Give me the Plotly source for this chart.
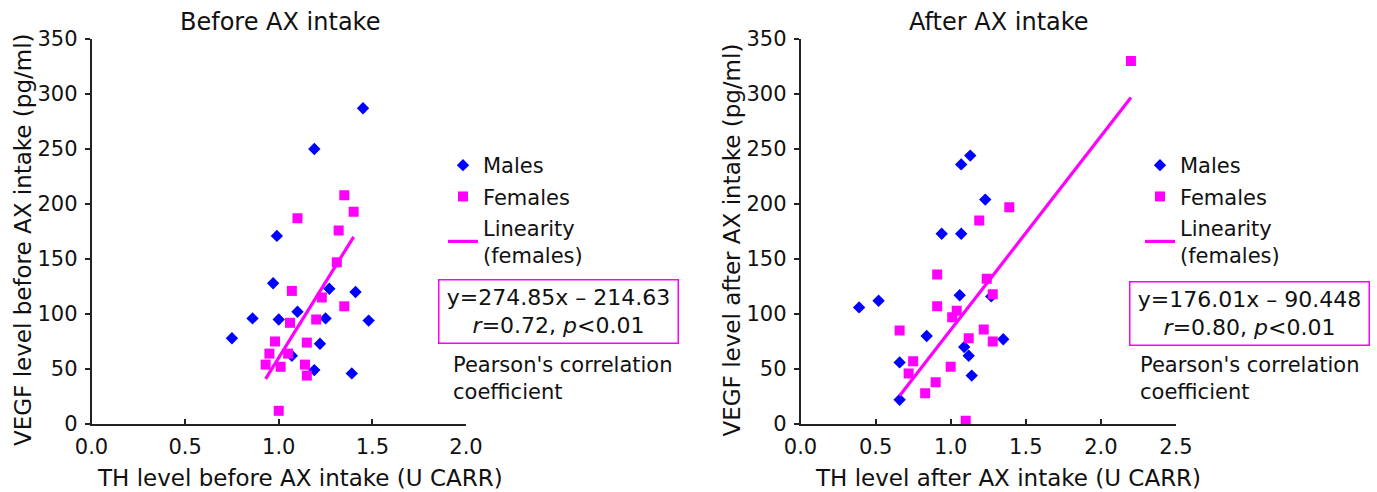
import plotly.graph_objects as go

# ---------------- data ----------------
before_male_x = [1.45, 1.19, 0.99, 0.97, 0.75, 0.86, 1.00, 1.10, 1.27, 1.41, 1.25, 1.48, 1.22, 1.07, 1.19, 1.39]
before_male_y = [287, 250, 171, 128, 78, 96, 95, 102, 123, 120, 96, 94, 73, 62, 49, 46]
before_female_x = [1.35, 1.40, 1.10, 1.32, 1.31, 1.07, 1.23, 1.35, 1.20, 1.06, 0.98, 1.15, 0.95, 1.05, 0.93, 1.01, 1.14, 1.15, 1.00]
before_female_y = [208, 193, 187, 176, 147, 121, 115, 107, 95, 92, 75, 74, 64, 64, 54, 52, 54, 44, 12]
before_fit = [274.85, -214.63]

after_male_x = [0.39, 0.52, 0.66, 0.66, 0.84, 0.94, 1.07, 1.13, 1.07, 1.23, 1.06, 1.27, 1.09, 1.12, 1.14, 1.35]
after_male_y = [106, 112, 22, 56, 80, 173, 236, 244, 173, 204, 117, 116, 70, 62, 44, 77]
after_female_x = [2.20, 1.39, 1.19, 0.91, 1.24, 1.28, 0.91, 1.04, 1.01, 0.66, 1.22, 1.12, 1.28, 0.75, 0.72, 1.00, 0.90, 0.83, 1.10]
after_female_y = [330, 197, 185, 136, 132, 118, 107, 103, 97, 85, 86, 78, 75, 57, 46, 52, 38, 28, 3]
after_fit = [176.01, -90.448]

titles = ["Before AX intake", "After AX intake"]
x_titles = ["TH level before AX intake (U CARR)", "TH level after AX intake (U CARR)"]
y_titles = ["VEGF level before AX intake (pg/ml)", "VEGF level after AX intake (pg/ml)"]
eq_texts = ["y=274.85x – 214.63<br><i>r</i>=0.72, <i>p</i><0.01",
            "y=176.01x – 90.448<br><i>r</i>=0.80, <i>p</i><0.01"]
note_text = "Pearson's correlation<br>coefficient"
x_ticks = [[0.0, 0.5, 1.0, 1.5, 2.0], [0.0, 0.5, 1.0, 1.5, 2.0, 2.5]]
y_ticks = [0, 50, 100, 150, 200, 250, 300, 350]

W, H = 1377, 492
FONT = "DejaVu Sans"
BLUE = "#0000FF"
MAG = "#FF00FF"
TXT = "#111111"

def px(x):
    return x / W

def py(y):
    return 1 - y / H

fig = go.Figure()

panels = [
    (before_male_x, before_male_y, before_female_x, before_female_y, before_fit, "x", "y", "legend"),
    (after_male_x, after_male_y, after_female_x, after_female_y, after_fit, "x2", "y2", "legend2"),
]
for k, (mx, my, fx, fy, fit, xa, ya, lg) in enumerate(panels):
    fig.add_trace(go.Scatter(x=mx, y=my, mode="markers", name="Males", xaxis=xa, yaxis=ya, legend=lg,
                             legendgroup=f"m{k}",
                             marker=dict(symbol="diamond", size=9.5, color=BLUE, line=dict(width=0))))
    fig.add_trace(go.Scatter(x=fx, y=fy, mode="markers", name="Females", xaxis=xa, yaxis=ya, legend=lg,
                             legendgroup=f"f{k}",
                             marker=dict(symbol="square", size=10, color=MAG, line=dict(width=0))))
    x0, x1 = min(fx), max(fx)
    fig.add_trace(go.Scatter(x=[x0, x1], y=[fit[0] * x0 + fit[1], fit[0] * x1 + fit[1]], mode="lines",
                             name="Linearity<br>(females)", xaxis=xa, yaxis=ya, legend=lg,
                             legendgroup=f"l{k}",
                             line=dict(color=MAG, width=3.2)))

common = dict(showline=True, linecolor="#222", linewidth=1.5, tickcolor="#222", tickwidth=1.5,
              showgrid=False, zeroline=False, tickfont=dict(family=FONT, size=21, color=TXT))
xcommon = dict(ticks="inside", ticklen=5, ticklabelstandoff=3, **common)
ycommon = dict(ticks="outside", ticklen=5, ticklabelstandoff=3, **common)

fig.update_layout(
    width=W, height=H, margin=dict(l=0, r=0, t=0, b=0, autoexpand=False),
    paper_bgcolor="white", plot_bgcolor="white",
    font=dict(family=FONT, size=21, color=TXT),
    xaxis=dict(domain=[px(91.5), px(466)], range=[0, 2], tickvals=x_ticks[0],
               ticktext=[f"{v:.1f}" for v in x_ticks[0]], anchor="y", **xcommon),
    yaxis=dict(domain=[py(424), py(39)], range=[0, 350], tickvals=y_ticks, anchor="x", **ycommon),
    xaxis2=dict(domain=[px(800.5), px(1176)], range=[0, 2.5], tickvals=x_ticks[1],
                ticktext=[f"{v:.1f}" for v in x_ticks[1]], anchor="y2", **xcommon),
    yaxis2=dict(domain=[py(424), py(39)], range=[0, 350], tickvals=y_ticks, anchor="x2", **ycommon),
    legend=dict(x=px(443), y=py(145), xanchor="left", yanchor="top", bgcolor="rgba(0,0,0,0)",
                font=dict(family=FONT, size=21, color=TXT), tracegroupgap=1),
    legend2=dict(x=px(1140), y=py(145), xanchor="left", yanchor="top", bgcolor="rgba(0,0,0,0)",
                 font=dict(family=FONT, size=21, color=TXT), tracegroupgap=1),
    showlegend=True,
)

ann = []
title_x = [279.5, 999]
xt_x = [300, 1007.5]
yt_x = [22.5, 731.5]
yt_y = [239.5, 240]
eq_x = [558.8, 1249.3]
eq_y = [311.3, 313.3]
note_x = [450.5, 1138]
for i in range(2):
    ann.append(dict(text=titles[i], x=px(title_x[i]), y=py(22), xref="paper", yref="paper",
                    xanchor="center", yanchor="middle",
                    showarrow=False, font=dict(family=FONT, size=24, color=TXT)))
    ann.append(dict(text=x_titles[i], x=px(xt_x[i]), y=py(478), xref="paper", yref="paper",
                    xanchor="center", yanchor="middle",
                    showarrow=False, font=dict(family=FONT, size=23, color=TXT)))
    ann.append(dict(text=y_titles[i], x=px(yt_x[i]), y=py(yt_y[i]), xref="paper", yref="paper",
                    xanchor="center", yanchor="middle",
                    showarrow=False, textangle=-90, font=dict(family=FONT, size=23, color=TXT)))
    ann.append(dict(text=eq_texts[i], x=px(eq_x[i]), y=py(eq_y[i]), xref="paper", yref="paper",
                    xanchor="center", yanchor="middle",
                    showarrow=False, width=234, height=58, borderpad=2, bordercolor=MAG, borderwidth=1.5,
                    align="center", font=dict(family=FONT, size=22, color=TXT)))
    ann.append(dict(text=note_text, x=px(note_x[i]), y=py(378.5), xref="paper", yref="paper",
                    xanchor="left", yanchor="middle", showarrow=False, align="left",
                    font=dict(family=FONT, size=21, color=TXT)))
fig.update_layout(annotations=ann)

fig.write_html("out.html")
